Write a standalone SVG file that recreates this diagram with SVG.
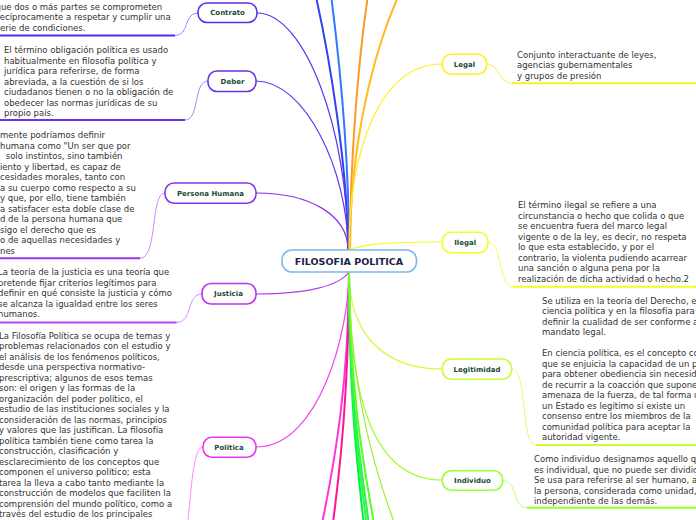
<svg xmlns="http://www.w3.org/2000/svg" width="696" height="520" viewBox="0 0 696 520">
<style>
.t{font-family:"DejaVu Sans",Verdana,sans-serif;font-size:8.5px;fill:#333}
.n{font-family:"DejaVu Sans",Verdana,sans-serif;font-size:7px;font-weight:bold;fill:#1c4a38;text-anchor:middle}
.c{font-family:"DejaVu Sans",Verdana,sans-serif;font-size:9.5px;font-weight:bold;fill:#1a2550;text-anchor:middle}
.box{fill:#fff;stroke-width:1.6}
.ln{fill:none;stroke-width:1.2}
.far{fill:none;stroke-width:2}
.ul{fill:none;stroke-width:2}
.cv{fill:none;stroke-width:1}
</style>
<rect width="696" height="520" fill="#fff"/>
<g id="connectors">
<path class="far" stroke="#3344ee" d="M348,250 C348,170 330,60 316.7,0"/>
<path class="far" stroke="#3377ff" d="M349,250 C349,150 338,50 331.7,0"/>
<path class="far" stroke="#ff9922" d="M350,250 C350,150 360,50 367.3,0"/>
<path class="far" stroke="#ffbb22" d="M350,250 C350,140 375,50 396.7,0"/>
<path class="ln" stroke="#5533ee" d="M257,13 C305,13 348,130 348,250"/>
<path class="ln" stroke="#6a33ee" d="M256,81 C305,81 348,170 348,250"/>
<path class="ln" stroke="#8a33ee" d="M256,193 C310,193 348,215 348,250"/>
<path class="ln" stroke="#b040ee" d="M256,294 C310,294 340,285 349,272"/>
<path class="ln" stroke="#ee44ee" d="M256,447 C320,447 349,330 349,272"/>
<path class="ln" stroke="#ffee22" d="M442,64 C380,64 349,150 349,250"/>
<path class="ln" stroke="#eeff22" d="M442,242 C400,242 365,243 349,250"/>
<path class="ln" stroke="#ccff33" d="M442,369 C380,369 349,330 349,272"/>
<path class="ln" stroke="#99ff33" d="M442,480 C370,480 349,390 349,272"/>
<path class="far" stroke="#ff33dd" d="M349,272 C349,380 335,460 322.7,520"/>
<path class="far" stroke="#ff1493" d="M349,272 C349,390 340,470 333.3,520"/>
<path class="far" stroke="#00ee44" d="M349,272 C349,400 358,470 363.3,520"/>
<path class="far" stroke="#22ff33" d="M349,272 C349,400 360,470 366,520"/>
<path class="far" stroke="#33ee55" d="M349,272 C349,400 362,470 368.3,520"/>
<path class="far" stroke="#55ff22" d="M349,272 C350,400 365,470 373.3,520"/>
<path class="ln" stroke="#99ee33" d="M349,272 C350,390 375,470 393.3,520"/>
<path class="cv" stroke="#9988ff" d="M175,35.5 C190,35.5 183,13 198,13"/>
<path class="ul" stroke="#4433ee" d="M0,35.5 H175"/>
<path class="cv" stroke="#aa88ff" d="M185,120 C200,120 193,81 208,81"/>
<path class="ul" stroke="#6633ee" d="M0,120 H185"/>
<path class="cv" stroke="#cc88ff" d="M140,258.3 C158,258.3 150,193 165,193"/>
<path class="ul" stroke="#9933ee" d="M0,258.3 H140"/>
<path class="cv" stroke="#dd88ff" d="M176.7,322.5 C193,322.5 186,294 202,294"/>
<path class="ul" stroke="#bb44ee" d="M0,322.5 H176.7"/>
<path class="cv" stroke="#ff88ff" d="M203,447 C194,447 192,480 188,520"/>
<path class="cv" stroke="#ffee44" d="M486.7,64 C500,64 498,83.3 512,83.3"/>
<path class="ul" stroke="#ffee22" d="M512,83.3 H696"/>
<path class="cv" stroke="#eeff55" d="M488,242.5 C503,242.5 498,286.7 513,286.7"/>
<path class="ul" stroke="#eeff22" d="M513,286.7 H696"/>
<path class="cv" stroke="#ddff77" d="M511.7,369 C528,369 520,445 536,445"/>
<path class="ul" stroke="#ccff33" d="M536,445 H696"/>
<path class="cv" stroke="#bbff77" d="M502.7,480.5 C518,480.5 512,507.7 527,507.7"/>
<path class="ul" stroke="#99ff22" d="M527,507.7 H696"/>
</g>
<g id="center">
<rect class="box" x="282" y="250" width="134.5" height="22" rx="10" stroke="#7fb8e6"/>
<text class="c" x="349" y="264.5">FILOSOFIA POLITICA</text>
</g>
<g id="contrato">
<rect class="box" x="198" y="3" width="59" height="19.5" rx="9" stroke="#5533ee"/>
<text class="n" x="227.5" y="15.3">Contrato</text>
<text class="t" x="-4.5" y="9.7"><tspan x="-4.5">que dos o más partes se comprometen</tspan><tspan x="-3.5" dy="10.5">recíprocamente a respetar y cumplir una</tspan><tspan x="-4.4" dy="10.5">serie de condiciones.</tspan></text>
</g>
<g id="deber">
<rect class="box" x="208" y="71" width="48" height="20.5" rx="9" stroke="#6633ee"/>
<text class="n" x="232.5" y="83.8">Deber</text>
<text class="t" y="53.2"><tspan x="4">El término obligación política es usado</tspan><tspan x="4" dy="10.5">habitualmente en filosofía política y</tspan><tspan x="4" dy="10.5">jurídica para referirse, de forma</tspan><tspan x="4" dy="10.5">abreviada, a la cuestión de si los</tspan><tspan x="4" dy="10.5">ciudadanos tienen o no la obligación de</tspan><tspan x="4" dy="10.5">obedecer las normas jurídicas de su</tspan><tspan x="4" dy="10.5">propio país.</tspan></text>
</g>
<g id="persona-humana">
<rect class="box" x="165" y="183" width="91" height="20.3" rx="9" stroke="#8833ee"/>
<text class="n" x="210.5" y="195.8">Persona Humana</text>
<text class="t" y="138"><tspan x="0">mente podríamos definir</tspan><tspan x="0" dy="10.5">humana como "Un ser que por</tspan><tspan x="3" dy="10.5"> solo instintos, sino también</tspan><tspan x="0" dy="10.5">iento y libertad, es capaz de</tspan><tspan x="0" dy="10.5">cesidades morales, tanto con</tspan><tspan x="0" dy="10.5">a su cuerpo como respecto a su</tspan><tspan x="0" dy="10.5">y que, por ello, tiene también</tspan><tspan x="0" dy="10.5">a satisfacer esta doble clase de</tspan><tspan x="0" dy="10.5">d de la persona humana que</tspan><tspan x="0" dy="10.5">sigo el derecho que es</tspan><tspan x="0" dy="10.5">o de aquellas necesidades y</tspan><tspan x="0" dy="10.5">nes</tspan></text>
</g>
<g id="justicia">
<rect class="box" x="202" y="283.5" width="54" height="20.5" rx="9" stroke="#bb33ee"/>
<text class="n" x="228.5" y="296.3">Justicia</text>
<text class="t" y="275"><tspan x="-2">La teoría de la justicia es una teoría que</tspan><tspan x="-2" dy="10.5">pretende fijar criterios legítimos para</tspan><tspan x="-2" dy="10.5">definir en qué consiste la justicia y cómo</tspan><tspan x="-2" dy="10.5">se alcanza la igualdad entre los seres</tspan><tspan x="-2" dy="10.5">humanos.</tspan></text>
</g>
<g id="politica">
<rect class="box" x="203" y="437.3" width="53" height="20" rx="9" stroke="#ee33ee"/>
<text class="n" x="229" y="449.8">Politica</text>
<text class="t" y="338.7"><tspan x="-1">La Filosofía Política se ocupa de temas y</tspan><tspan x="-1" dy="10.5">problemas relacionados con el estudio y</tspan><tspan x="-1" dy="10.5">el análisis de los fenómenos políticos,</tspan><tspan x="-1" dy="10.5">desde una perspectiva normativo-</tspan><tspan x="-1" dy="10.5">prescriptiva; algunos de esos temas</tspan><tspan x="-1" dy="10.5">son: el origen y las formas de la</tspan><tspan x="-1" dy="10.5">organización del poder político, el</tspan><tspan x="-1" dy="10.5">estudio de las instituciones sociales y la</tspan><tspan x="-1" dy="10.5">consideración de las normas, principios</tspan><tspan x="-1" dy="10.5">y valores que las justifican. La filosofía</tspan><tspan x="-1" dy="10.5">política también tiene como tarea la</tspan><tspan x="-1" dy="10.5">construcción, clasificación y</tspan><tspan x="-1" dy="10.5">esclarecimiento de los conceptos que</tspan><tspan x="-1" dy="10.5">componen el universo político; esta</tspan><tspan x="-1" dy="10.5">tarea la lleva a cabo tanto mediante la</tspan><tspan x="-1" dy="10.5">construcción de modelos que faciliten la</tspan><tspan x="-1" dy="10.5">comprensión del mundo político, como a</tspan><tspan x="-1" dy="10.5">través del estudio de los principales</tspan></text>
</g>
<g id="legal">
<rect class="box" x="442.3" y="54.3" width="44.4" height="20" rx="9" stroke="#ffee22"/>
<text class="n" x="464.5" y="66.8">Legal</text>
<text class="t" y="57.5"><tspan x="517">Conjunto interactuante de leyes,</tspan><tspan x="517" dy="10.5">agencias gubernamentales</tspan><tspan x="517" dy="10.5">y grupos de presión</tspan></text>
</g>
<g id="ilegal">
<rect class="box" x="442.3" y="232.3" width="45.7" height="20.4" rx="9" stroke="#eeff22"/>
<text class="n" x="465.2" y="245">Ilegal</text>
<text class="t" y="208"><tspan x="518">El término ilegal se refiere a una</tspan><tspan x="518" dy="10.5">circunstancia o hecho que colida o que</tspan><tspan x="518" dy="10.5">se encuentra fuera del marco legal</tspan><tspan x="518" dy="10.5">vigente o de la ley, es decir, no respeta</tspan><tspan x="518" dy="10.5">lo que esta establecido, y por el</tspan><tspan x="518" dy="10.5">contrario, la violenta pudiendo acarrear</tspan><tspan x="518" dy="10.5">una sanción o alguna pena por la</tspan><tspan x="518" dy="10.5">realización de dicha actividad o hecho.2</tspan></text>
</g>
<g id="legitimidad">
<rect class="box" x="442.3" y="359" width="69.4" height="20.3" rx="9" stroke="#ccff33"/>
<text class="n" x="477" y="371.6">Legitimidad</text>
<text class="t" y="303.7"><tspan x="542">Se utiliza en la teoría del Derecho, en la</tspan><tspan x="542" dy="10.5">ciencia política y en la filosofía para</tspan><tspan x="542" dy="10.5">definir la cualidad de ser conforme a un</tspan><tspan x="542" dy="10.5">mandato legal.</tspan><tspan x="542" dy="21">En ciencia política, es el concepto con el</tspan><tspan x="542" dy="10.5">que se enjuicia la capacidad de un poder</tspan><tspan x="542" dy="10.5">para obtener obediencia sin necesidad</tspan><tspan x="542" dy="10.5">de recurrir a la coacción que supone la</tspan><tspan x="542" dy="10.5">amenaza de la fuerza, de tal forma que</tspan><tspan x="542" dy="10.5">un Estado es legítimo si existe un</tspan><tspan x="542" dy="10.5">consenso entre los miembros de la</tspan><tspan x="542" dy="10.5">comunidad política para aceptar la</tspan><tspan x="542" dy="10.5">autoridad vigente.</tspan></text>
</g>
<g id="individuo">
<rect class="box" x="442.3" y="470.7" width="60.4" height="19.5" rx="9" stroke="#99ff33"/>
<text class="n" x="472.5" y="483">Individuo</text>
<text class="t" y="462.3"><tspan x="534">Como individuo designamos aquello que</tspan><tspan x="534" dy="10.5">es individual, que no puede ser dividido.</tspan><tspan x="534" dy="10.5">Se usa para referirse al ser humano, a</tspan><tspan x="534" dy="10.5">la persona, considerada como unidad,</tspan><tspan x="534" dy="10.5">independiente de las demás.</tspan></text>
</g>
</svg>
